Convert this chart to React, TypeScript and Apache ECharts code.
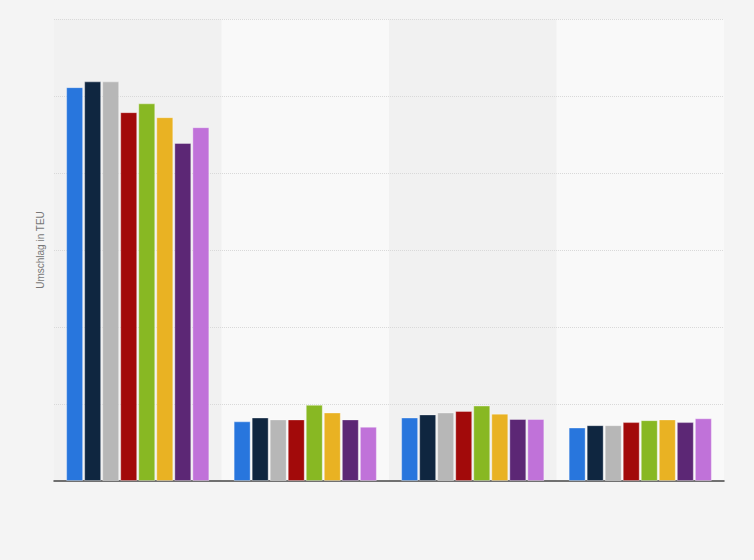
import React, { useEffect, useRef } from "react";
import * as echarts from "echarts";

const categories = ["A", "B", "C", "D"];
const seriesNames = ["S1", "S2", "S3", "S4", "S5", "S6", "S7", "S8"];
const colors = ["#2876dd", "#0f2640", "#b7b7b7", "#a20a0a", "#88b823", "#e9b223", "#5c2775", "#c072d9"];
const s1 = [10.23, 1.55, 1.65, 1.39];
const s2 = [10.38, 1.65, 1.73, 1.45];
const s3 = [10.38, 1.6, 1.78, 1.45];
const s4 = [9.58, 1.6, 1.82, 1.53];
const s5 = [9.81, 1.98, 1.96, 1.58];
const s6 = [9.45, 1.78, 1.75, 1.6];
const s7 = [8.78, 1.6, 1.61, 1.53];
const s8 = [9.19, 1.41, 1.61, 1.63];
const allSeries = [s1, s2, s3, s4, s5, s6, s7, s8];

export default function App() {
  const ref = useRef<HTMLDivElement>(null);
  useEffect(() => {
    document.body.style.margin = "0";
    const chart = echarts.init(ref.current!, null, { renderer: "svg" });
    chart.setOption({
      animation: false,
      backgroundColor: "#f4f4f4",
      grid: { left: 54, right: 30, top: 19, bottom: 79 },
      xAxis: {
        type: "category",
        data: categories,
        axisLine: { show: true, lineStyle: { color: "#444", width: 1.5 } },
        axisTick: { show: false },
        axisLabel: { show: false },
        splitArea: { show: true, areaStyle: { color: ["rgba(0,0,0,0.012)", "rgba(255,255,255,0.45)"] } },
        z: 0,
      },
      yAxis: {
        type: "value",
        min: 0,
        max: 12,
        interval: 2,
        name: "Umschlag in TEU",
        nameLocation: "middle",
        nameGap: 9,
        nameTextStyle: { color: "#777", fontSize: 10, fontFamily: "Arial, Liberation Sans, sans-serif" },
        axisLine: { show: false },
        axisTick: { show: false },
        axisLabel: { show: false },
        splitLine: { show: true, showMinLine: false, lineStyle: { color: "#d9d9d9", type: [1, 1], width: 1 } },
        z: 1,
      },
      series: allSeries.map((d, i) => ({
        name: seriesNames[i],
        type: "bar",
        data: d,
        barGap: "6%",
        barCategoryGap: "14.5%",
        z: 2,
        itemStyle: { color: colors[i], borderColor: "rgba(255,255,255,0.35)", borderWidth: 1 },
      })),
    });
    return () => chart.dispose();
  }, []);
  return <div ref={ref} style={{ width: 754, height: 560 }} />;
}
